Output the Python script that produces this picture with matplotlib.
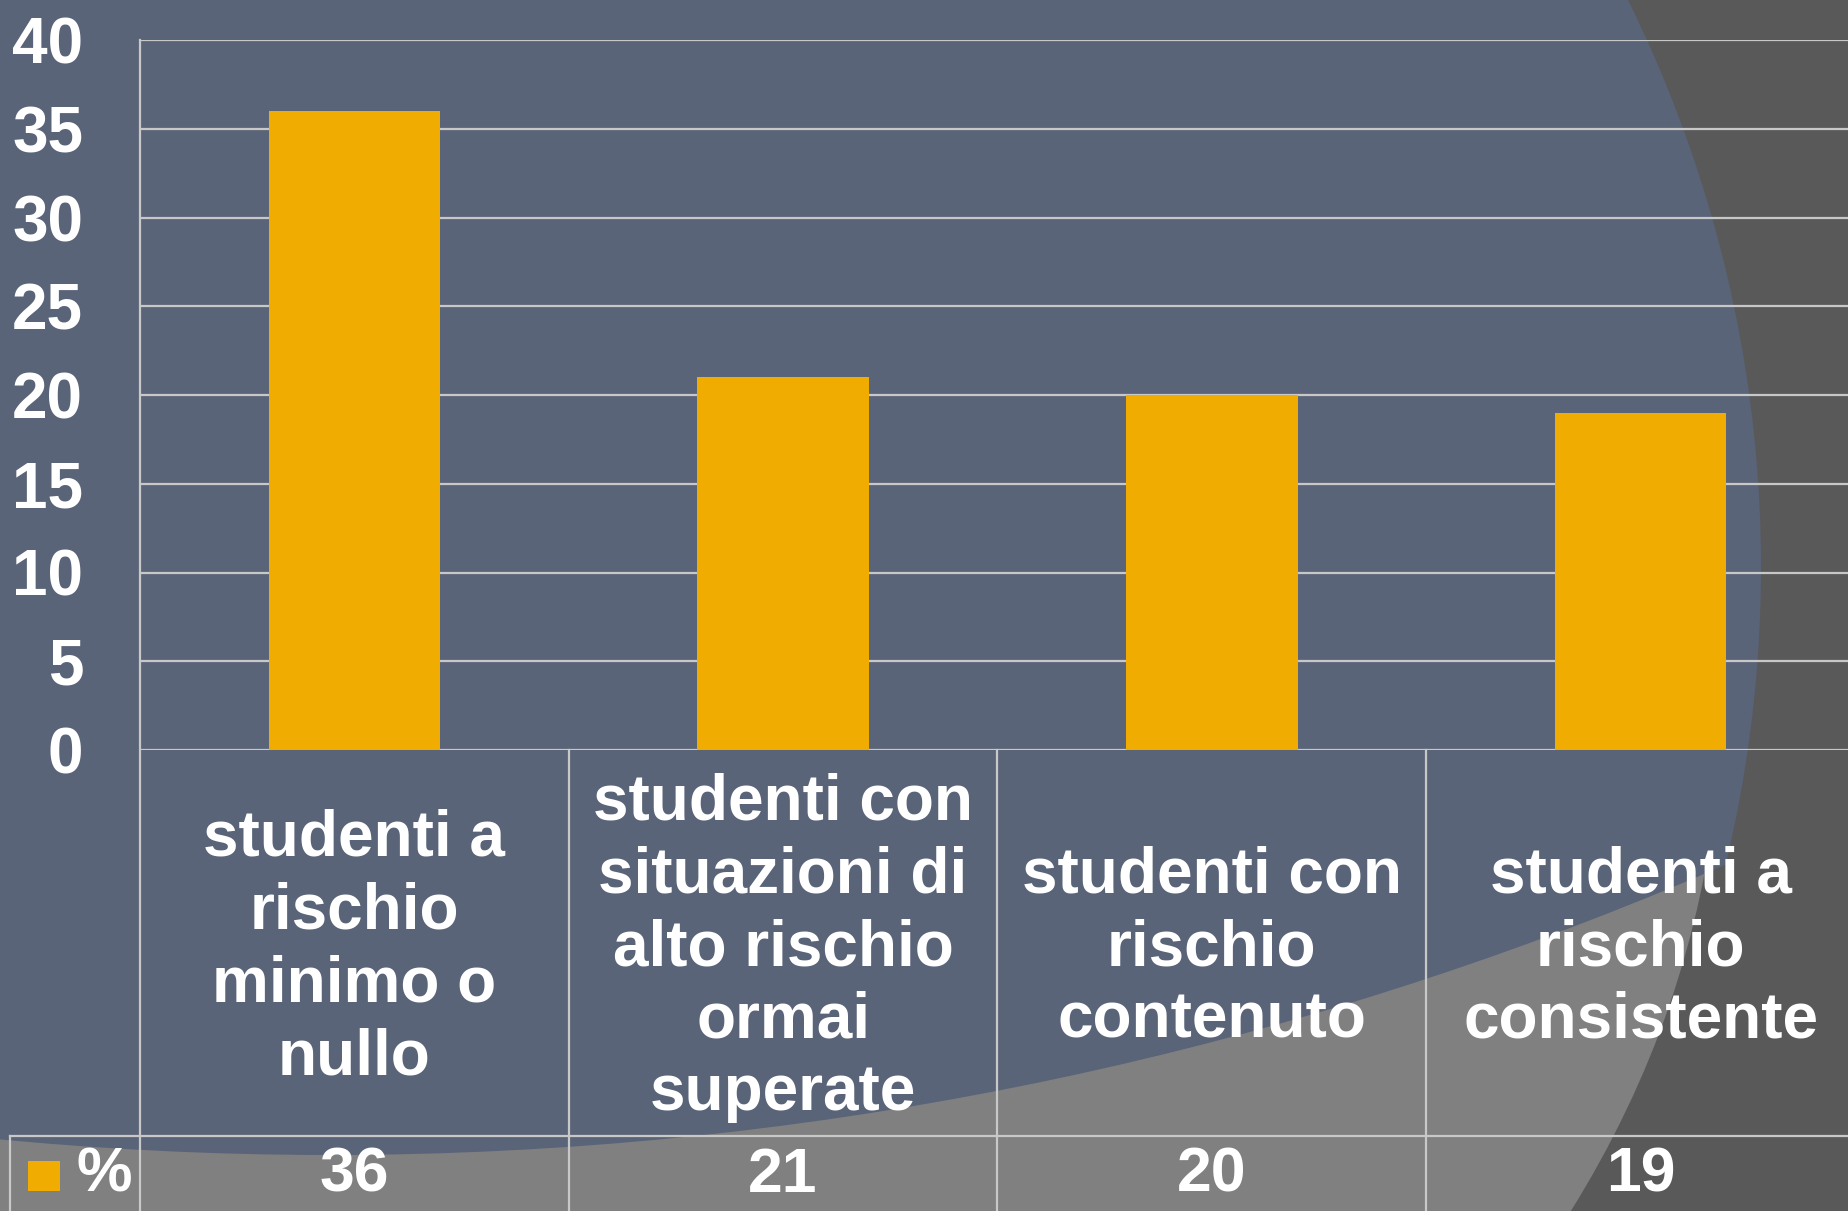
import numpy as np
import matplotlib
matplotlib.use('Agg')
import matplotlib.pyplot as plt
import matplotlib.transforms as mtransforms
from matplotlib.patches import Ellipse, Circle, Rectangle

# data
categories = ['studenti a\nrischio\nminimo o\nnullo',
              'studenti con\nsituazioni di\nalto rischio\normai\nsuperate',
              'studenti con\nrischio\ncontenuto',
              'studenti a\nrischio\nconsistente']
values = [36, 21, 20, 19]
series_name = '%'
yticks = list(range(0, 41, 5))

W, H = 1849, 1211
DARK, BLUE, LIGHT = '#595959', '#5A6478', '#808080'
BAR, GRID = '#F0AC00', '#C8C8C8'

plt.rcParams['font.family'] = ['Liberation Sans', 'DejaVu Sans']

fig = plt.figure(figsize=(W / 100, H / 100), dpi=100, facecolor=DARK)

# background (slide design), pixel coords
bg = fig.add_axes([0, 0, 1, 1], zorder=0)
bg.set_xlim(0, W)
bg.set_ylim(H, 0)
bg.axis('off')
bg.add_patch(Ellipse((306, 700), 2830, 2280, facecolor=LIGHT, edgecolor='none'))
clip = Circle((330, -2345), 3500, transform=bg.transData)
blue = Ellipse((361, 567), 2800, 2666, facecolor=BLUE, edgecolor='none')
bg.add_patch(blue)
blue.set_clip_path(clip)

# plot area: left 140px, top 40px, zero line 750px; runs a bit past the right edge
x0, x1, ytop, y0 = 140, 1855, 40, 750
ax = fig.add_axes([x0 / W, (H - y0) / H, (x1 - x0) / W, (y0 - ytop) / H], zorder=1)
ax.patch.set_alpha(0)
x = np.arange(len(values))
ax.bar(x, values, width=0.4, color=BAR, zorder=3)
ax.set_xlim(-0.5, len(values) - 0.5)
ax.set_ylim(0, 40)
ax.set_yticks(yticks)
ax.set_yticklabels([str(t) for t in yticks], fontsize=46, fontweight='bold', color='white')
ax.tick_params(axis='y', length=0, pad=41)
ax.set_xticks([])
ax.yaxis.grid(True, color=GRID, lw=1.6)
ax.set_axisbelow(True)
for s in ax.spines.values():
    s.set_visible(False)

# data table under the chart
px = (x1 - x0) / len(values)       # pixels per category
py = y0 - ytop                     # pixels of axes height
tr = mtransforms.blended_transform_factory(ax.transData, ax.transAxes)
row_top = (y0 - 1136) / py
bottom = (y0 - H) / py
leg_left = -0.5 - (x0 - 10) / px
lk = dict(color=GRID, lw=1.6, transform=tr, clip_on=False)
ax.plot([-0.5, -0.5], [bottom, 1], **lk)
for b in np.arange(0.5, len(values) - 0.5):
    ax.plot([b, b], [bottom, 0], **lk)
ax.plot([leg_left, len(values)], [row_top, row_top], **lk)
ax.plot([leg_left, leg_left], [bottom, row_top], **lk)

label_y = (y0 - 948) / py
value_y = (y0 - 1175) / py
for i, (c, v) in enumerate(zip(categories, values)):
    ax.text(i, label_y, c, transform=tr, ha='center', va='center', color='white',
            fontsize=46, fontweight='bold', linespacing=1.27)
    ax.text(i, value_y, str(v), transform=tr, ha='center', va='center', color='white',
            fontsize=45, fontweight='bold')

ax.add_patch(Rectangle((-0.5 - (x0 - 28) / px, (y0 - 1191) / py), 32 / px, 30 / py,
                       facecolor=BAR, edgecolor='none', transform=tr, clip_on=False))
ax.text(-0.5 - (x0 - 104) / px, value_y, series_name, transform=tr, ha='center', va='center',
        color='white', fontsize=45, fontweight='bold')

fig.savefig('out.png', dpi=100, facecolor=DARK)
